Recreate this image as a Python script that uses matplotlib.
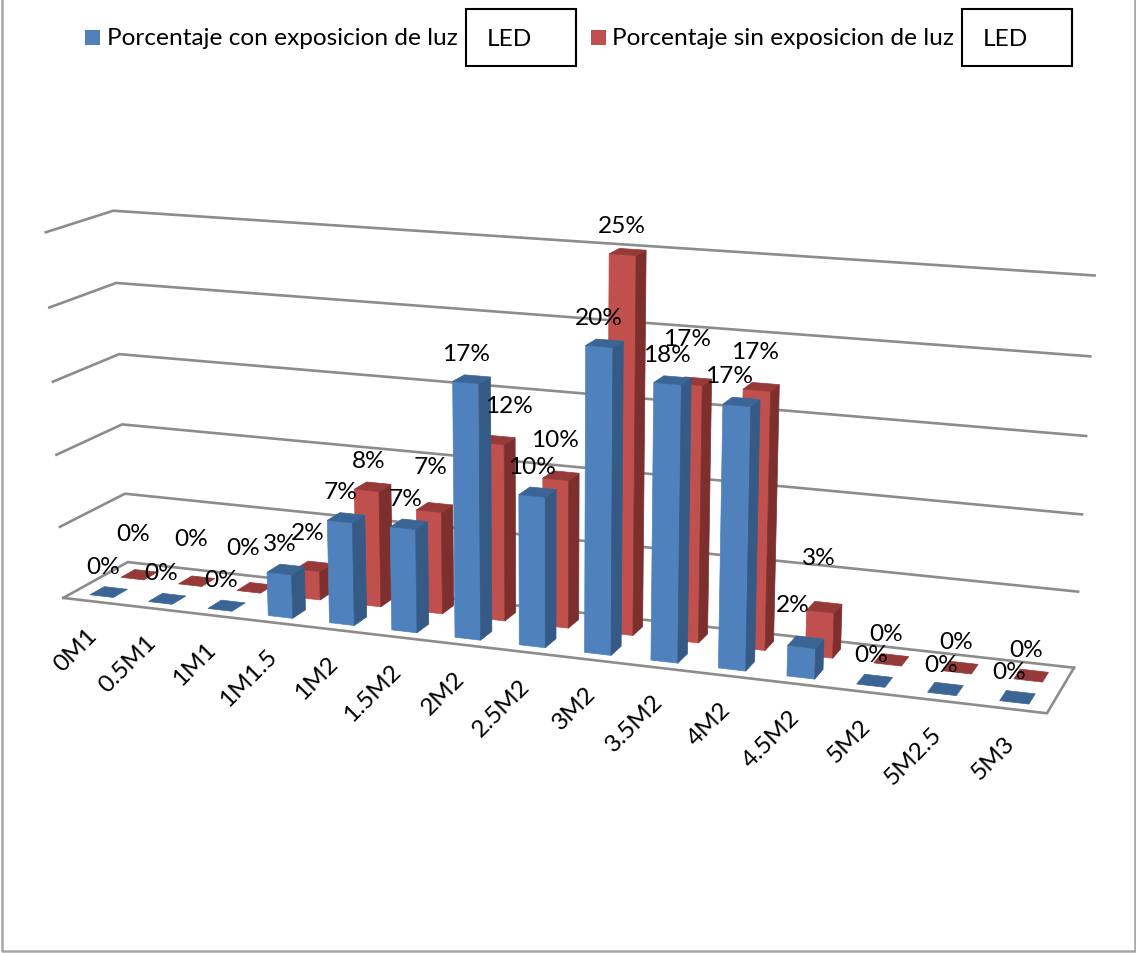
import numpy as np
import matplotlib
matplotlib.use('Agg')
import matplotlib.pyplot as plt
from matplotlib.patches import Polygon, Rectangle

plt.rcParams['font.family'] = ['Lato', 'DejaVu Sans']

# data
categories = ['0M1', '0.5M1', '1M1', '1M1.5', '1M2', '1.5M2', '2M2', '2.5M2',
              '3M2', '3.5M2', '4M2', '4.5M2', '5M2', '5M2.5', '5M3']
con_luz = [0, 0, 0, 3, 7, 7, 17, 10, 20, 18, 17, 2, 0, 0, 0]
sin_luz = [0, 0, 0, 2, 8, 7, 12, 10, 25, 17, 17, 3, 0, 0, 0]
y_max = 25
y_step = 5

# label nudges in pixels (the original labels sit unevenly)
con_dx = [-6, -6, -6, -6, -6, -3, -6, -6, -6, -6, -12, -13, -4, -4, -8]
con_dy = [-26, -26, -26, -26, -26, -26, -26, -26, -26, -26, -26, -38, -26, -24, -26]
sin_dx = [-6, -6, -12, -6, -4, -4, 12, -6, -6, -6, -6, -6, -5, -5, -5]
sin_dy = [-41, -43, -40, -34, -26, -41, -34, -36, -26, -43, -35, -50, -26, -26, -26]

# box corners as seen on the page: (u, v, w) -> (px, py)
corners = [((0, 0, 0), (62, 597)), ((1, 0, 0), (1045.5, 713)),
           ((0, 1, 0), (126, 562)), ((1, 1, 0), (1072.5, 667)),
           ((0, 1, 1), (112, 210)), ((1, 1, 1), (1093, 275)),
           ((0, 0, 1), (44, 232))]

# fit a camera matrix to the corners
rows = []
for (u, v, w), (px, py) in corners:
    rows.append([u, v, w, 1, 0, 0, 0, 0, -px * u, -px * v, -px * w, -px])
    rows.append([0, 0, 0, 0, u, v, w, 1, -py * u, -py * v, -py * w, -py])
cam = np.linalg.svd(np.array(rows, float))[2][-1].reshape(3, 4)


def project(u, v, w):
    p = cam @ np.array([u, v, w, 1.0])
    return p[0] / p[2], p[1] / p[2]


fig = plt.figure(figsize=(11.36, 9.54), dpi=100)
ax = fig.add_axes([0, 0, 1, 1])
ax.set_xlim(-1.5, 1134.5)
ax.set_ylim(952.5, -1.5)
ax.axis('off')

# chart frame
frame = '#a6a6a6'
ax.plot([0.5, 0.5, 1133.5, 1133.5], [-2, 950.5, 950.5, -2], color=frame, lw=1.8)

# walls and floor
grid = '#8c8c8c'
for val in range(0, y_max + 1, y_step):
    w = val / y_max
    pts = [project(0, 0, w), project(0, 1, w), project(1, 1, w)]
    ax.plot(*zip(*pts), color=grid, lw=1.9, zorder=1)
floor = [project(0, 0, 0), project(1, 0, 0), project(1, 1, 0)]
ax.plot(*zip(*floor), color=grid, lw=1.9, zorder=1)

n = len(categories)
half = 0.20


def draw_bar(i, value, v0, v1, front, top, side, z):
    u0 = (i + 0.5 - half) / n
    u1 = (i + 0.5 + half) / n
    w = value / y_max
    if value > 0:
        ax.add_patch(Polygon([project(u0, v0, 0), project(u1, v0, 0),
                              project(u1, v0, w), project(u0, v0, w)],
                             fc=front, ec=front, lw=0.5, zorder=z))
        ax.add_patch(Polygon([project(u1, v0, 0), project(u1, v1, 0),
                              project(u1, v1, w), project(u1, v0, w)],
                             fc=side, ec=side, lw=0.5, zorder=z))
    ax.add_patch(Polygon([project(u0, v0, w), project(u1, v0, w),
                          project(u1, v1, w), project(u0, v1, w)],
                         fc=top, ec=top, lw=0.5, zorder=z))


for i in range(n):
    draw_bar(i, sin_luz[i], 0.62, 0.84, '#c0504d', '#953a38', '#7d2f2e', 2 + i * 0.01)
for i in range(n):
    draw_bar(i, con_luz[i], 0.14, 0.36, '#4f81bd', '#3b6595', '#355a85', 3 + i * 0.01)

# data labels
fs = 17.6
for i in range(n):
    x, y = project((i + 0.5) / n, 0.73, sin_luz[i] / y_max)
    ax.text(x + sin_dx[i], y + sin_dy[i], '%d%%' % sin_luz[i], fontsize=fs,
            ha='center', va='center', zorder=5)
    x, y = project((i + 0.5) / n, 0.25, con_luz[i] / y_max)
    ax.text(x + con_dx[i], y + con_dy[i], '%d%%' % con_luz[i], fontsize=fs,
            ha='center', va='center', zorder=5)

# category labels
for i, name in enumerate(categories):
    x, y = project((i + 0.5) / n, 0, 0)
    ax.text(x + 1, y + 30, name, rotation=45, rotation_mode='anchor', fontsize=fs,
            ha='right', va='center', zorder=5)

# legend
ax.add_patch(Rectangle((83, 29.5), 15, 15, fc='#4f81bd', ec='none'))
ax.text(105.5, 37, 'Porcentaje con exposicion de luz', fontsize=fs, va='center')
ax.add_patch(Rectangle((464, 8), 110, 57, fc='white', ec='black', lw=1.5))
ax.text(485.5, 37.5, 'LED', fontsize=fs, va='center')
ax.add_patch(Rectangle((589, 29.5), 15, 15, fc='#c0504d', ec='none'))
ax.text(610.5, 37, 'Porcentaje sin exposicion de luz', fontsize=fs, va='center')
ax.add_patch(Rectangle((960, 8), 110, 57, fc='white', ec='black', lw=1.5))
ax.text(981.5, 37.5, 'LED', fontsize=fs, va='center')

fig.savefig('out.png', dpi=100)
